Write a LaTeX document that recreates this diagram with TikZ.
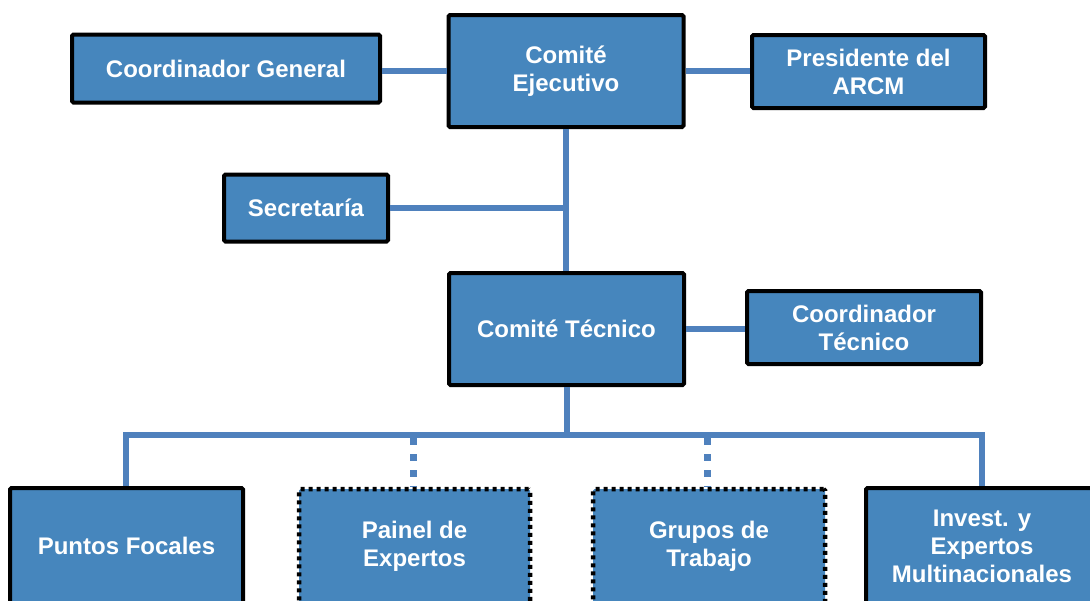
\documentclass[tikz,border=0pt]{standalone}
\usepackage{fontspec}
\setmainfont{Liberation Sans}
\definecolor{boxfill}{RGB}{70,134,189}
\definecolor{linkc}{RGB}{79,129,189}
\begin{document}
\begin{tikzpicture}[x=1pt,y=-1pt,
  box/.style={draw=black,line width=4pt,fill=boxfill,rounded corners=1.5pt,
    text=white,font=\fontsize{24}{28}\selectfont\bfseries,align=center,
    inner sep=0pt,minimum width=#1},
  solidbox/.style={box=#1},
  dotbox/.style={box=#1,dash pattern=on 4pt off 4pt,line width=4.5pt},
  link/.style={draw=linkc,line width=6pt},
  dlink/.style={draw=linkc,line width=7pt,dash pattern=on 7pt off 9pt}]
\useasboundingbox (0,0) rectangle (1090,600);
\clip (0,0) rectangle (1090,600);
\node[solidbox=235pt,minimum height=112pt] (ce) at (566,71) {Comité\\Ejecutivo};
\node[solidbox=308pt,minimum height=68pt] (cg) at (226,68.5) {Coordinador General};
\node[solidbox=233pt,minimum height=73pt] (pr) at (868.5,71.5) {Presidente del\\ARCM};
\node[solidbox=164pt,minimum height=67pt] (se) at (306,208) {Secretaría};
\node[solidbox=235pt,minimum height=112pt] (ct) at (566.5,329) {Comité Técnico};
\node[solidbox=234pt,minimum height=73pt] (co) at (864,327.5) {Coordinador\\Técnico};
\node[solidbox=233pt,minimum height=116pt] (pf) at (126.5,546) {Puntos Focales};
\node[dotbox=231pt,minimum height=115pt] (pe) at (414.5,546.5) {Painel de\\Expertos};
\node[dotbox=232pt,minimum height=115pt] (gt) at (709,546.5) {Grupos de\\Trabajo};
\node[solidbox=232pt,minimum height=116pt] (ie) at (982,546) {Invest. y\\Expertos\\Multinacionales};
\coordinate (bl) at (126,435);
\coordinate (br) at (982,435);
\draw[link] (ce.west) -- (cg.east |- ce.west);
\draw[link] (ce.east) -- (pr.west |- ce.east);
\draw[link] (ce.south) -- (ct.north -| ce.south);
\draw[link] (se.east) -- (se.east -| ce.south);
\draw[link] (ct.east) -- (co.west |- ct.east);
\draw[link] (ct.south) -- (ct.south |- bl);
\draw[link] ([xshift=-3pt]bl) -- ([xshift=3pt]br);
\draw[link] (bl) -- (pf.north -| bl);
\draw[link] (br) -- (ie.north -| br);
\draw[dlink] (413,438) -- (pe.north -| 413,0);
\draw[dlink] (707,438) -- (gt.north -| 707,0);
\end{tikzpicture}
\end{document}
